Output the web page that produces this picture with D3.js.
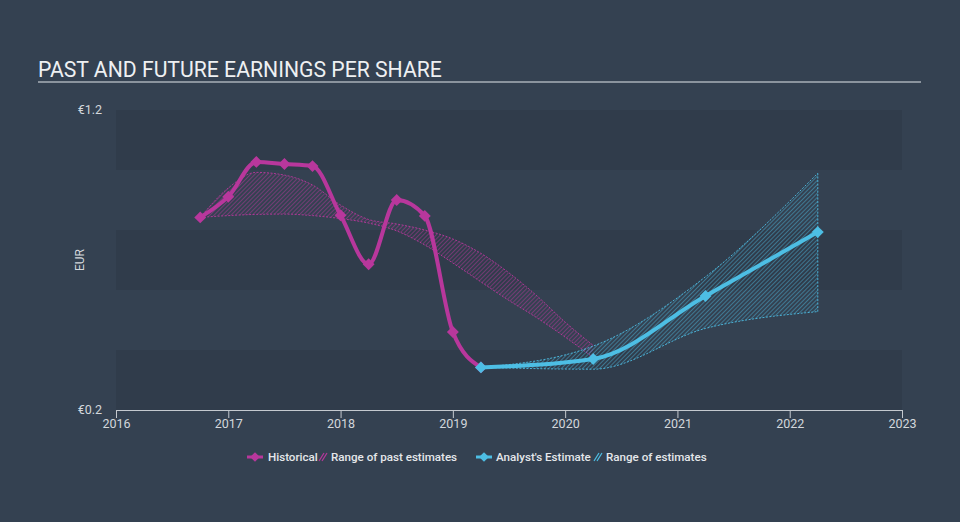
<!DOCTYPE html>
<html>
<head>
<meta charset="utf-8">
<script src="https://cdn.jsdelivr.net/npm/d3@7"></script>
<style>
  html, body { margin: 0; padding: 0; background: #344151; }
  svg { display: block; }
  text { font-family: Roboto, "Noto Sans", sans-serif; }
</style>
</head>
<body>
<svg id="chart" width="960" height="522"></svg>
<script>
// ---- Data (decimal years, EUR) ----
const histDates = [2016.75, 2017, 2017.25, 2017.5, 2017.75, 2018, 2018.25, 2018.5, 2018.75, 2019, 2019.25];
const histEPS   = [0.842, 0.911, 1.027, 1.020, 1.013, 0.849, 0.686, 0.900, 0.847, 0.460, 0.342];

const pastRangeDates = [2016.75, 2017, 2017.25, 2017.5, 2017.75, 2018, 2018.25, 2018.5, 2018.75, 2019, 2019.25, 2019.5, 2019.75, 2020, 2020.25];
const pastRangeHigh  = [0.842, 0.940, 0.992, 0.983, 0.950, 0.883, 0.835, 0.820, 0.800, 0.770, 0.722, 0.657, 0.580, 0.493, 0.415];
const pastRangeLow   = [0.842, 0.848, 0.852, 0.853, 0.848, 0.838, 0.823, 0.797, 0.750, 0.690, 0.627, 0.565, 0.507, 0.443, 0.375];

const estDates = [2019.25, 2020.25, 2021.25, 2022.25];
const estEPS   = [0.342, 0.370, 0.580, 0.793];
const estLow   = [0.342, 0.336, 0.472, 0.528];
const estHigh  = [0.342, 0.413, 0.644, 0.989];

const xTicks = [2016, 2017, 2018, 2019, 2020, 2021, 2022, 2023];
const yTickLabels = ["€0.2", "€1.2"];
const yTickValues = [0.2, 1.2];
const legendItems = ["Historical", "Range of past estimates", "Analyst's Estimate", "Range of estimates"];

// ---- Layout ----
const svg = d3.select("#chart");
const L = 116, R = 902, T = 110, B = 410;
const magenta = "#b8379c";
const cyan = "#4dbee4";
const darkBand = "#303c4b";

const x = d3.scaleLinear().domain([2016, 2023]).range([L, R]);
const y = d3.scaleLinear().domain([0.2, 1.2]).range([B, T]);

// Title
svg.append("text").attr("x", 38).attr("y", 77)
  .attr("fill", "#eef0f2").attr("font-size", 21.2).text("PAST AND FUTURE EARNINGS PER SHARE");
svg.append("line").attr("x1", 38).attr("x2", 921).attr("y1", 82).attr("y2", 82)
  .attr("stroke", "#a9b0b8").attr("stroke-width", 1.5);

// Horizontal bands
for (let i = 0; i < 5; i++) {
  if (i % 2 === 0) {
    const lo = 0.2 + i * 0.2, hi = lo + 0.2;
    svg.append("rect").attr("x", L).attr("width", R - L)
      .attr("y", y(hi)).attr("height", y(lo) - y(hi)).attr("fill", darkBand);
  }
}

// Patterns
const defs = svg.append("defs");
function hatch(id, color, op) {
  const p = defs.append("pattern").attr("id", id).attr("patternUnits", "userSpaceOnUse")
    .attr("width", 3).attr("height", 3).attr("patternTransform", "rotate(45)");
  p.append("line").attr("x1", 0).attr("y1", 0).attr("x2", 0).attr("y2", 3)
    .attr("stroke", color).attr("stroke-width", 1.2).attr("stroke-opacity", op);
}
hatch("hatchPast", magenta, 0.8);
hatch("hatchEst", cyan, 0.75);

// Y labels
svg.selectAll(".ylab").data(yTickValues).enter().append("text")
  .attr("x", 102).attr("y", d => y(d) + 4).attr("text-anchor", "end")
  .attr("fill", "#d3d7dc").attr("font-size", 12.5)
  .text((d, i) => yTickLabels[i]);
svg.append("text").attr("transform", `translate(84,${(T + B) / 2}) rotate(-90)`)
  .attr("text-anchor", "middle").attr("fill", "#d3d7dc").attr("font-size", 12).text("EUR");

// X axis
const xAxis = d3.axisBottom(x).tickValues(xTicks).tickFormat(d3.format("d")).tickSize(8).tickSizeOuter(0);
const gx = svg.append("g").attr("transform", `translate(0,${B})`).call(xAxis);
gx.select(".domain").attr("stroke", "#c4c9cf").attr("stroke-width", 1);
gx.selectAll(".tick line").attr("stroke", "#c4c9cf");
gx.selectAll(".tick text").attr("fill", "#d3d7dc").attr("font-size", 12.5)
  .attr("font-family", "Roboto, sans-serif").attr("dy", "0.35em").attr("y", 14);

const curve = d3.curveMonotoneX;

// Past range band
const pastData = pastRangeDates.map((d, i) => ({ d, lo: pastRangeLow[i], hi: pastRangeHigh[i] }));
const area = d3.area().x(p => x(p.d)).y0(p => y(p.lo)).y1(p => y(p.hi)).curve(curve);
svg.append("path").datum(pastData).attr("d", area).attr("fill", "url(#hatchPast)");
const edgeLine = (key) => d3.line().x(p => x(p.d)).y(p => y(p[key])).curve(curve);
["lo", "hi"].forEach(k => svg.append("path").datum(pastData).attr("d", edgeLine(k))
  .attr("fill", "none").attr("stroke", magenta).attr("stroke-width", 1).attr("stroke-dasharray", "2,1.5").attr("stroke-opacity", 0.9));

// Estimate range band
const estData = estDates.map((d, i) => ({ d, lo: estLow[i], hi: estHigh[i] }));
svg.append("path").datum(estData).attr("d", area).attr("fill", "url(#hatchEst)");
["lo", "hi"].forEach(k => svg.append("path").datum(estData).attr("d", edgeLine(k))
  .attr("fill", "none").attr("stroke", cyan).attr("stroke-width", 1).attr("stroke-dasharray", "2,1.5").attr("stroke-opacity", 0.9));
const lastE = estData[estData.length - 1];
svg.append("line").attr("x1", x(lastE.d)).attr("x2", x(lastE.d)).attr("y1", y(lastE.lo)).attr("y2", y(lastE.hi))
  .attr("stroke", cyan).attr("stroke-width", 1).attr("stroke-dasharray", "2,1.5").attr("stroke-opacity", 0.9);

// Lines
const line = d3.line().x(p => x(p[0])).y(p => y(p[1])).curve(curve);
const hist = histDates.map((d, i) => [d, histEPS[i]]);
const est = estDates.map((d, i) => [d, estEPS[i]]);
svg.append("path").datum(hist).attr("d", line).attr("fill", "none").attr("stroke", magenta).attr("stroke-width", 4);
const diamond = d3.symbol().type(d3.symbolDiamond2).size(90);
svg.selectAll(".hm").data(hist).enter().append("path")
  .attr("d", diamond).attr("transform", p => `translate(${x(p[0])},${y(p[1])})`).attr("fill", magenta);
svg.append("path").datum(est).attr("d", line).attr("fill", "none").attr("stroke", cyan).attr("stroke-width", 4);
svg.selectAll(".em").data(est).enter().append("path")
  .attr("d", diamond).attr("transform", p => `translate(${x(p[0])},${y(p[1])})`).attr("fill", cyan);

// Legend
const ly = 457;
const lg = svg.append("g").attr("font-size", 11.6).attr("fill", "#e4e7ea").attr("font-weight", 500);
function lineIcon(cx, color) {
  lg.append("line").attr("x1", cx - 8).attr("x2", cx + 8).attr("y1", ly).attr("y2", ly).attr("stroke", color).attr("stroke-width", 3);
  lg.append("path").attr("d", d3.symbol().type(d3.symbolDiamond2).size(60)).attr("transform", `translate(${cx},${ly})`).attr("fill", color);
}
function hatchIcon(cx, color) {
  for (let k = 0; k < 2; k++) {
    lg.append("line").attr("x1", cx - 3 + k * 3).attr("y1", ly + 4).attr("x2", cx + 2 + k * 3).attr("y2", ly - 4)
      .attr("stroke", color).attr("stroke-width", 1.2);
  }
}
lineIcon(255, magenta);
lg.append("text").attr("x", 268).attr("y", ly + 4).text(legendItems[0]);
hatchIcon(322, magenta);
lg.append("text").attr("x", 331).attr("y", ly + 4).text(legendItems[1]);
lineIcon(484, cyan);
lg.append("text").attr("x", 496).attr("y", ly + 4).text(legendItems[2]);
hatchIcon(597, cyan);
lg.append("text").attr("x", 606).attr("y", ly + 4).text(legendItems[3]);
</script>
</body>
</html>
